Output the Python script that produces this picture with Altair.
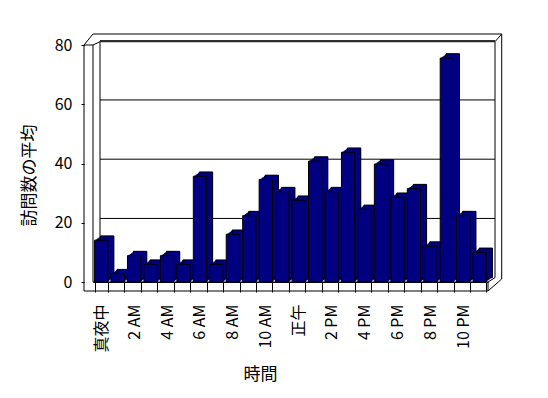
import altair as alt
import pandas as pd

# ---- data ----
hours = list(range(24))
visits = [14.1, 2.8, 8.9, 6.0, 8.9, 6.0, 35.7, 6.0, 16.1, 22.4, 34.6, 30.5,
          27.6, 40.8, 30.5, 43.8, 24.5, 39.8, 28.6, 31.5, 12.1, 75.6, 22.4, 10.0]
tick_labels = ["真夜中", "", "2 AM", "", "4 AM", "", "6 AM", "", "8 AM", "", "10 AM", "",
               "正午", "", "2 PM", "", "4 PM", "", "6 PM", "", "8 PM", "", "10 PM", ""]
y_ticks = [0, 20, 40, 60, 80]
grid_values = [20, 40, 60, 80]

df = pd.DataFrame({"hour": hours, "visits": visits})
grid_df = pd.DataFrame({"v": grid_values})
one = pd.DataFrame({"a": [0]})

W, H = 395, 237
NAVY = "#000080"
FONT = "Noto Sans CJK JP"

label_expr = "[" + ",".join("'" + t + "'" for t in tick_labels) + "][datum.value]"

xscale = alt.Scale(paddingInner=0.19, paddingOuter=0.095)
yscale = alt.Scale(domain=[0, 80], nice=False)

x_enc = alt.X("hour:O", scale=xscale,
              axis=alt.Axis(title="時間", labelExpr=label_expr, labelAngle=-90,
                            labelOverlap=False, tickBand="extent", tickSize=10,
                            tickColor="black", domainColor="black", labelPadding=12,
                            labelFontSize=16, labelFont=FONT, labelColor="black",
                            labelFontWeight="normal",
                            titleFont=FONT, titleFontSize=17, titleFontWeight="normal",
                            titleColor="black", titleX=167, titleY=92,
                            titleAlign="center", titleBaseline="middle"))
y_enc = alt.Y("visits:Q", scale=yscale,
              axis=alt.Axis(title="訪問数の平均", values=y_ticks, offset=9, domain=False,
                            grid=False, tickSize=3, tickColor="black", labelPadding=9,
                            labelFontSize=16, labelFont=FONT, labelColor="black",
                            labelFontWeight="normal",
                            titleFont=FONT, titleFontSize=17, titleFontWeight="normal",
                            titleColor="black", titleX=-55, titleY=130,
                            titleAngle=-90, titleAlign="center", titleBaseline="middle"))


def seg(x1, y1, x2, y2):
    return alt.Chart(one).mark_rule(color="black", strokeWidth=1).encode(
        x=alt.value(x1), y=alt.value(y1), x2=alt.value(x2), y2=alt.value(y2))


# back wall
back = [
    seg(7, -3.3, 402, -3.3),
    seg(7, -3.3, 7, 232.7),
    seg(402, -3.3, 402, 232.7),
    seg(0, 0, 7, -3.3),
    seg(395, 237, 402, 232.7),
]
grid = alt.Chart(grid_df).mark_rule(color="black", yOffset=-4.3).encode(
    y=alt.Y("v:Q", scale=yscale), x=alt.value(7), x2=alt.value(402))

# bars (3-D look: extrusion layers behind the front face)
extrude = []
for k in range(1, 6):
    extrude.append(alt.Chart(df).mark_bar(color=NAVY, xOffset=k * 1.2, yOffset=-k * 0.86).encode(
        x=x_enc, y=y_enc))
shadow = alt.Chart(df).mark_bar(color=NAVY, stroke="black", strokeWidth=1,
                                xOffset=6, yOffset=-4.3).encode(x=x_enc, y=y_enc)
front = alt.Chart(df).mark_bar(color=NAVY, stroke="black", strokeWidth=1).encode(
    x=x_enc, y=y_enc)

# outer frame / floor / left wall
frame = [
    seg(-9, 0, -9, 246),
    seg(-9, 246, 395, 246),
    seg(0, 0, 0, 237),
    seg(395, 237, 395, 246),
    seg(395, 246, 408.7, 234),
    seg(408.7, 234, 408.7, -11),
    seg(0, -11, 408.7, -11),
    seg(-9, 0, 0, -11),
    seg(-9, 0, 0, 0),
    seg(402, -3.3, 408.7, -11),
    seg(0, 237, 395, 237),
]

chart = alt.layer(*back, grid, *extrude, shadow, front, *frame).properties(
    width=W, height=H,
    autosize=alt.AutoSizeParams(type="none"),
    padding={"left": 85, "top": 37, "right": 40, "bottom": 110},
    background="white",
).configure_view(stroke=None)

chart.save("out.html", embed_options={"renderer": "svg", "actions": False})
